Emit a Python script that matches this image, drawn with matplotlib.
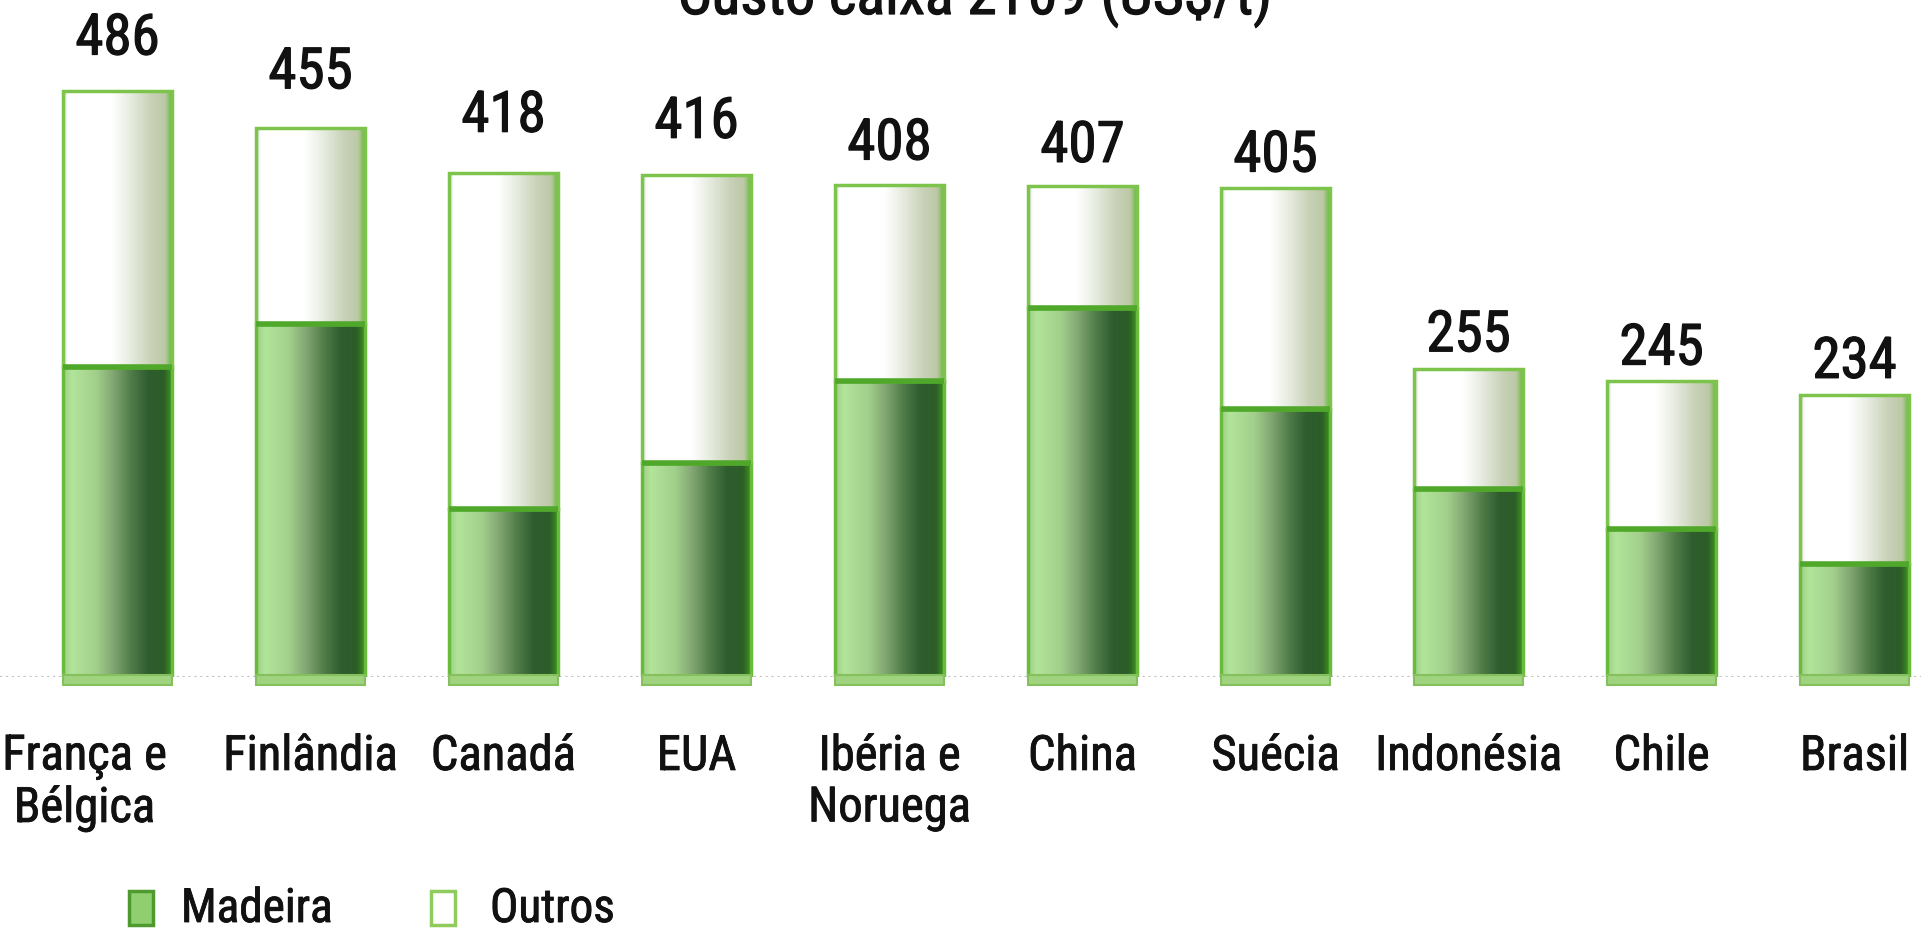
import matplotlib
matplotlib.use("Agg")
import matplotlib.pyplot as plt
import numpy as np
from matplotlib import font_manager as fm
from matplotlib import patheffects as pe
from matplotlib.colors import LinearSegmentedColormap
from matplotlib.patches import Rectangle
import matplotlib.transforms as mtransforms

# --- data -------------------------------------------------------------
categories = ["França e\nBélgica", "Finlândia", "Canadá", "EUA", "Ibéria e\nNoruega",
              "China", "Suécia", "Indonésia", "Chile", "Brasil"]
totals = [486, 455, 418, 416, 408, 407, 405, 255, 245, 234]
madeira = [257, 293, 139, 177, 245, 306, 222, 156, 123, 94]
outros = [t - m for t, m in zip(totals, madeira)]
title = "Custo caixa 2T09 (US$/t)"
legend_labels = ["Madeira", "Outros"]

# vertical gap between bar top and its value label (data units)
label_lift = [30, 33, 34, 31, 21, 20, 14, 15, 14, 14]

# --- fonts ------------------------------------------------------------
available = {f.name for f in fm.fontManager.ttflist}
family = next((f for f in ["Liberation Sans Narrow", "Arial Narrow", "Roboto Condensed",
                           "Archivo Narrow", "PT Sans Narrow", "Fira Sans Condensed",
                           "Pragati Narrow", "Liberation Sans"] if f in available))
plt.rcParams["font.family"] = [family, "DejaVu Sans"]

# slightly heavier than regular weight
heavy = [pe.withStroke(linewidth=0.6, foreground="#111111")]
heavier = [pe.withStroke(linewidth=0.9, foreground="#111111")]

# --- figure -----------------------------------------------------------
W, H = 1921, 933
fig = plt.figure(figsize=(W / 100, H / 100), dpi=100)
base_px = 677
ax = fig.add_axes([0, (H - base_px) / H, 1, base_px / H])

x = np.arange(len(categories))
bar_w = 0.565

cm_wood = LinearSegmentedColormap.from_list("wood", [
    (0.00, "#9ccf86"), (0.08, "#b2e49a"), (0.30, "#a2d08c"), (0.45, "#84a874"),
    (0.62, "#4f7c48"), (0.78, "#2f5c2e"), (0.92, "#2c5e28"), (1.00, "#3e9c1c")])
cm_other = LinearSegmentedColormap.from_list("other", [
    (0.00, "#c8ccc0"), (0.04, "#ffffff"), (0.45, "#ffffff"), (0.62, "#e6ebdf"),
    (0.80, "#c9d2b8"), (0.93, "#bcc8a6"), (1.00, "#5cb82a")])
grad = np.linspace(0, 1, 256).reshape(1, -1)

bars_wood = ax.bar(x, madeira, width=bar_w, fill=False, edgecolor="#6abb3c",
                   linewidth=2.5, zorder=4)
bars_other = ax.bar(x, outros, width=bar_w, bottom=madeira, fill=False,
                    edgecolor="#7cc44c", linewidth=2.5, zorder=4)

for rects, cmap in ((bars_wood, cm_wood), (bars_other, cm_other)):
    for r in rects:
        x0, y0 = r.get_x(), r.get_y()
        ax.imshow(grad, cmap=cmap, aspect="auto", interpolation="bicubic",
                  extent=[x0, x0 + r.get_width(), y0, y0 + r.get_height()], zorder=3)

# boundary line between the two stacked segments
for r in bars_wood:
    ax.plot([r.get_x(), r.get_x() + r.get_width()], [r.get_height()] * 2,
            color="#4fa82a", linewidth=4, solid_capstyle="butt", zorder=5)

# light slab at the foot of each bar
for r in bars_wood:
    ax.add_patch(Rectangle((r.get_x(), -7), r.get_width(), 9, facecolor="#9fd37e",
                           edgecolor="#86c05e", linewidth=1.5, zorder=5, clip_on=False))

ax.axhline(0, color="#c4c4c4", linestyle=":", linewidth=1.6, zorder=1)

# value labels
for xi, t, lift in zip(x, totals, label_lift):
    ax.text(xi, t + lift, f"{t}", ha="center", va="baseline", fontsize=41,
            fontweight="normal", color="#111111", path_effects=heavier)

ax.set_xlim(-0.609, 9.344)
ax.set_ylim(0, base_px / 1.2064)
ax.set_xticks(x)
ax.set_xticklabels(categories, fontsize=35, color="#111111", linespacing=1.15,
                   fontweight="normal")
for lbl in ax.get_xticklabels():
    lbl.set_path_effects(heavy)
ax.tick_params(axis="x", length=0, pad=41)
ax.set_yticks([])
for s in ax.spines.values():
    s.set_visible(False)

# first label sits a little to the left of its bar
lbl0 = ax.get_xticklabels()[0]
lbl0.set_transform(lbl0.get_transform() + mtransforms.ScaledTranslation(-0.33, 0, fig.dpi_scale_trans))

fig.text(975 / W, 1 - 14 / H, title, ha="center", va="baseline", fontsize=43,
         fontweight="normal", color="#111111", path_effects=heavier)

# legend
for (px0, text_x, lab, fc, ec) in ((129, 181, legend_labels[0], "#8fcf70", "#4e9a2e"),
                                   (431, 490, legend_labels[1], "#ffffff", "#8fcc5c")):
    fig.patches.append(Rectangle((px0 / W, 1 - 925 / H), 24 / W, 34 / H,
                                 transform=fig.transFigure, facecolor=fc,
                                 edgecolor=ec, linewidth=2.5))
    fig.text(text_x / W, 1 - 922 / H, lab, ha="left", va="baseline", fontsize=34,
             fontweight="normal", color="#111111", path_effects=heavy)

fig.savefig("out.png", dpi=100)
